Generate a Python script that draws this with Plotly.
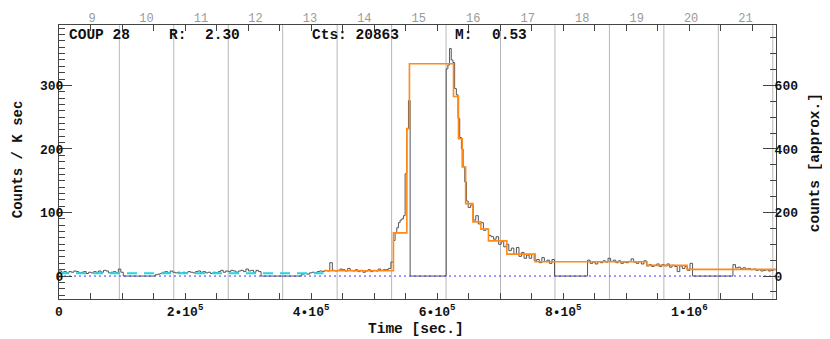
import plotly.graph_objects as go

# ---------------- data ----------------
# light-curve segments: start / end time [s] and binned rates [counts / ks]
seg_start = [0, 152400, 385200, 530600, 614300, 649200, 838600, 1069300]
seg_end = [102000, 320600, 530600, 557100, 649200, 786200, 1005200, 1137600]

rate_a = [8, 6, 7, 5, 7, 6, 8, 7, 5, 6, 7, 4, 6, 5, 7, 6, 8, 6, 9, 8, 5, 6, 7, 5, 11, 6]
rate_b = [2, 3, 4, 6, 7, 5, 8, 6, 5, 6, 4, 6, 5, 7, 6, 5, 7, 8, 6, 7, 5, 6, 4, 6, 5,
          7, 9, 6, 8, 7, 9, 8, 6, 8, 9, 7, 11, 8, 9, 6, 9, 7]
rate_c1 = [3, 4, 3, 5, 6, 5, 7, 8, 7, 9, 8, 21, 9, 8, 9, 11, 10, 8, 12, 9, 8, 10, 7, 9,
           6, 8, 10, 7, 9, 8, 11, 9, 10, 10, 12, 22]
rate_c2 = [56, 68, 76, 84, 88, 90, 95, 161, 232, 276]
rate_d1 = [326, 332, 358, 340, 336, 295, 285, 248, 218, 200, 172, 148, 118]
rate_d2 = [108, 112, 88, 95, 82, 84, 72, 74, 64, 62, 58, 62, 50, 54, 46, 50, 40, 44, 34,
           45, 31, 37, 28, 33, 28, 34, 24, 26, 21, 29, 23, 25, 20, 26]
rate_e = [25, 20, 22, 19, 23, 21, 24, 22, 28, 23, 25, 21, 24, 20, 22, 21, 23, 27, 22, 20,
          23, 19, 24, 16, 18, 15, 17, 19, 15, 18, 16, 19, 14, 17, 15, 7, 16, 12, 15, 9, 20]
rate_f = [18, 13, 14, 12, 13, 11, 12, 10, 11, 9, 10, 8, 9, 10, 8, 9, 10]
seg_rates = [rate_a, rate_b, rate_c1, rate_c2, rate_d1, rate_d2, rate_e, rate_f]

# Bayesian blocks (orange)
block_edges = [419600, 530600, 551900, 556000, 625900, 633800, 639700, 645200, 656700,
               669400, 681400, 710600, 755600, 932900, 996400, 1137600]
block_rates = [8.3, 68, 232, 334, 282.6, 216, 171.6, 114, 85.3, 73.8, 55.4, 34.5, 22.5,
               16.8, 10.5]

# quiescent level (cyan dashed)
quiet_times = [0, 419600]
quiet_rates = [4.5, 4.5]

# day boundaries and day numbers (top axis)
day_bounds = [95700, 182100, 268500, 354900, 441300, 527700, 614100, 700500, 786900,
              873300, 959700, 1046100, 1132500]
day_numbers = [9, 10, 11, 12, 13, 14, 15, 16, 17, 18, 19, 20, 21]
half_day = 43200

x_ticks = [0, 200000, 400000, 600000, 800000, 1000000]
x_ticktext = ["0", "2\u202210<sup>5</sup>", "4\u202210<sup>5</sup>", "6\u202210<sup>5</sup>",
              "8\u202210<sup>5</sup>", "1\u202210<sup>6</sup>"]

t_range = [0, 1137600]
y_range = [-36.1, 395]
counts_per_rate = 2.0

# ---------------- build step curve ----------------
lc_x, lc_y = [], []
prev_end = None
for s, e, vals in zip(seg_start, seg_end, seg_rates):
    if prev_end is not None and s > prev_end:
        lc_x.append(prev_end)
        lc_y.append(0)
    w = (e - s) / len(vals)
    for i, v in enumerate(vals):
        lc_x.append(s + i * w)
        lc_y.append(v)
    prev_end = e
lc_x.append(prev_end)
lc_y.append(lc_y[-1])

bb_x = list(block_edges)
bb_y = list(block_rates) + [block_rates[-1]]

FONT = "Liberation Mono, Courier New, monospace"
AX = "#444444"

# page body has an 8px margin: figure is sized/placed to compensate
W, H = 822, 331
ML, MR, MT, MB = 51, 54, 16.5, 40
plot_w = W - ML - MR
plot_h = H - MT - MB
OFF = 8


def px_x(px):
    return (px - OFF - ML) / plot_w


def px_y(py):
    return (H - MB - (py - OFF)) / plot_h


fig = go.Figure()

fig.add_trace(go.Scatter(x=t_range, y=[0, 0], mode="lines", xaxis="x2",
                         line=dict(color="#3b3bff", width=1, dash="2px,3px"),
                         hoverinfo="skip", showlegend=False))
fig.add_trace(go.Scatter(x=lc_x, y=lc_y, mode="lines", line_shape="hv",
                         line=dict(color="#555555", width=1), showlegend=False))
fig.add_trace(go.Scatter(x=bb_x, y=bb_y, mode="lines", line_shape="hv",
                         line=dict(color="#ff8a1a", width=1.6), showlegend=False))
fig.add_trace(go.Scatter(x=quiet_times, y=quiet_rates, mode="lines",
                         line=dict(color="#22d8e0", width=2, dash="10px,7px"),
                         showlegend=False))
# invisible trace for the right axis
fig.add_trace(go.Scatter(x=t_range, y=[None, None], yaxis="y2", mode="lines",
                         showlegend=False, hoverinfo="skip"))

shapes = []
for b in day_bounds:
    shapes.append(dict(type="line", xref="x", yref="paper", x0=b, x1=b, y0=0, y1=1,
                       line=dict(color="#b8b8b8", width=1), layer="below"))

tickfont = dict(family=FONT, size=13, color="#111111", weight="bold")

fig.update_layout(
    width=W, height=H,
    margin=dict(l=ML, r=MR, t=MT, b=MB, autoexpand=False),
    paper_bgcolor="white", plot_bgcolor="white",
    showlegend=False,
    shapes=shapes,
    xaxis=dict(range=t_range, showgrid=False, zeroline=False, showline=True,
               automargin=False,
               linecolor=AX, linewidth=1, mirror="allticks", ticks="inside",
               ticklen=6, tickcolor=AX, tickvals=x_ticks, ticktext=x_ticktext,
               tickfont=tickfont,
               minor=dict(dtick=50000, tick0=0, ticks="inside", ticklen=3, tickcolor=AX)),
    xaxis2=dict(range=t_range, overlaying="x", side="top", showgrid=False,
                automargin=False,
                zeroline=False, showline=False, ticks="",
                tickvals=[b - half_day for b in day_bounds], ticktext=[str(d) for d in day_numbers],
                tickfont=dict(family=FONT, size=12, color="#9a9a9a")),
    yaxis=dict(range=y_range, showgrid=False, zeroline=False, showline=True,
               automargin=False, ticklabelstandoff=-8,
               linecolor=AX, linewidth=1, ticks="inside", ticklen=13, tickcolor=AX,
               tickvals=[0, 100, 200, 300], tickfont=tickfont,
               minor=dict(dtick=10, tick0=0, ticks="inside", ticklen=6, tickcolor=AX)),
    yaxis2=dict(range=[y_range[0] * counts_per_rate, y_range[1] * counts_per_rate],
                automargin=False, ticklabelstandoff=-5,
                overlaying="y", side="right", showgrid=False, zeroline=False,
                showline=True, linecolor=AX, linewidth=1, ticks="inside", ticklen=13,
                tickcolor=AX, tickvals=[0, 200, 400, 600], tickfont=tickfont,
                minor=dict(dtick=50, tick0=0, ticks="inside", ticklen=6, tickcolor=AX)),
)

ann_font = dict(family=FONT, size=14.5, color="#111111", weight="bold")
info = [("COUP 28", 66.7), ("R:", 166.7), ("2.30", 202.7), ("Cts: 20863", 310),
        ("M:", 453.3), ("0.53", 490)]
for txt, px in info:
    fig.add_annotation(text=txt, xref="paper", yref="paper", x=px_x(px),
                       y=px_y(34.3), xanchor="left", yanchor="middle", showarrow=False,
                       font=ann_font)

fig.add_annotation(text="Time [sec.]", xref="paper", yref="paper", x=px_x(416),
                   y=px_y(329), xanchor="center", yanchor="middle",
                   showarrow=False, font=ann_font)
fig.add_annotation(text="Counts / K sec", xref="paper", yref="paper", x=px_x(8),
                   y=px_y(159), xanchor="left", yanchor="middle", textangle=-90,
                   showarrow=False, font=dict(family=FONT, size=14, color="#111111",
                                              weight="bold"))
fig.add_annotation(text="counts [approx.]", xref="paper", yref="paper",
                   x=px_x(815), y=px_y(163), xanchor="center", yanchor="middle",
                   textangle=-90, showarrow=False, font=ann_font)

fig.write_html("out.html")
